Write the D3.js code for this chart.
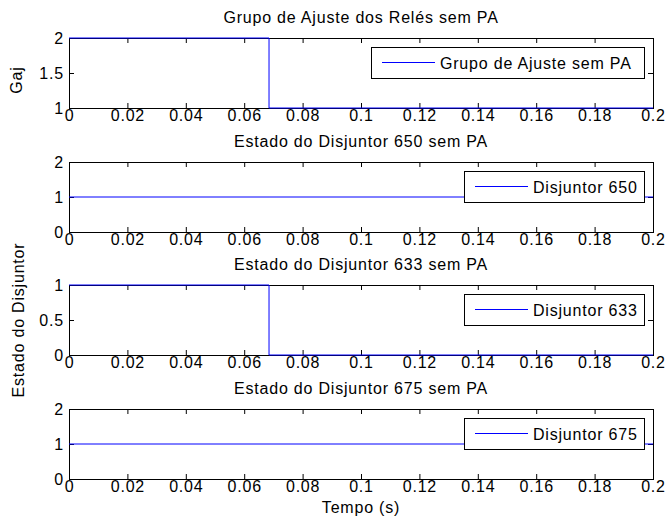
<!DOCTYPE html>
<html>
  <head>
    <meta charset="utf-8">
    <script src="https://d3js.org/d3.v7.min.js"></script>
    <style>
      body {
        margin: 0;
        background: #fff;
      }
      svg text {
        font-family: "Liberation Sans", Arial, Helvetica, sans-serif;
        font-size: 16px;
        letter-spacing: 0.8px;
        fill: #000;
      }
    </style>
  </head>
  <body>
    <div id="chart"></div>
    <script>
      // dados (tempo em s)
      const tempo = [0, 0.0685, 0.0685, 0.2]
      const grupoAjuste = [2, 2, 1, 1]
      const disj650 = [1, 1, 1, 1]
      const disj633 = [1, 1, 0, 0]
      const disj675 = [1, 1, 1, 1]

      const xTicks = [0, 0.02, 0.04, 0.06, 0.08, 0.1, 0.12, 0.14, 0.16, 0.18, 0.2]
      const titulos = [
        "Grupo de Ajuste dos Relés sem PA",
        "Estado do Disjuntor 650 sem PA",
        "Estado do Disjuntor 633 sem PA",
        "Estado do Disjuntor 675 sem PA"
      ]
      const legendas = ["Grupo de Ajuste sem PA", "Disjuntor 650", "Disjuntor 633", "Disjuntor 675"]
      const series = [grupoAjuste, disj650, disj633, disj675]
      const yDominios = [[1, 2], [0, 2], [0, 1], [0, 2]]
      const yTicks = [[1, 1.5, 2], [0, 1, 2], [0, 0.5, 1], [0, 1, 2]]

      const width = 666, height = 528
      const left = 69, right = 653
      const tops = [38, 162, 285, 409]
      const h = 70
      const legW = [273, 180, 180, 180]
      const legY = [47, 171, 294, 418]

      const svg = d3.select('#chart').append('svg')
        .attr('width', width)
        .attr('height', height)

      const x = d3.scaleLinear().domain([0, 0.2]).range([left, right])
      const fmt = d3.format('~g')

      series.forEach((vals, i) => {
        const top = tops[i]
        const y = d3.scaleLinear().domain(yDominios[i]).range([top + h, top])
        const g = svg.append('g')

        g.append('rect')
          .attr('x', left + 0.5).attr('y', top + 0.5)
          .attr('width', right - left).attr('height', h)
          .attr('fill', 'none').attr('stroke', '#000')

        const ax = g.append('g').attr('transform', `translate(0,${top + h})`)
          .call(d3.axisBottom(x).tickValues(xTicks).tickFormat(fmt)
            .tickSizeInner(-5).tickSizeOuter(0).tickPadding(1.5))
        const axT = g.append('g').attr('transform', `translate(0,${top})`)
          .call(d3.axisTop(x).tickValues(xTicks).tickFormat('')
            .tickSizeInner(-5).tickSizeOuter(0))
        const ay = g.append('g').attr('transform', `translate(${left},0)`)
          .call(d3.axisLeft(y).tickValues(yTicks[i]).tickFormat(fmt)
            .tickSizeInner(-5).tickSizeOuter(0).tickPadding(5))
        const ayR = g.append('g').attr('transform', `translate(${right},0)`)
          .call(d3.axisRight(y).tickValues(yTicks[i]).tickFormat('')
            .tickSizeInner(-5).tickSizeOuter(0))

        ;[ax, axT, ay, ayR].forEach(a => {
          a.select('.domain').remove()
          a.selectAll('line').attr('stroke', '#000')
          a.selectAll('text').attr('font-size', null).attr('font-family', null).attr('fill', '#000')
        })

        const line = d3.line()
          .x((d, k) => x(tempo[k]))
          .y(d => y(d))
        g.append('path')
          .datum(vals)
          .attr('d', line)
          .attr('fill', 'none')
          .attr('stroke', '#0000ff')
          .attr('stroke-width', 1)

        g.append('text')
          .attr('x', (left + right) / 2)
          .attr('y', top - 15)
          .attr('text-anchor', 'middle')
          .text(titulos[i])

        // legenda
        const lx = right - 9 - legW[i]
        const ly = legY[i]
        const lg = g.append('g')
        lg.append('rect')
          .attr('x', lx + 0.5).attr('y', ly + 0.5)
          .attr('width', legW[i]).attr('height', 31)
          .attr('fill', '#fff').attr('stroke', '#000')
        lg.append('line')
          .attr('x1', lx + 11).attr('x2', lx + 64)
          .attr('y1', ly + 15.5).attr('y2', ly + 15.5)
          .attr('stroke', '#0000ff')
        lg.append('text')
          .attr('x', lx + 69)
          .attr('y', ly + 21.5)
          .text(legendas[i])
      })

      svg.append('text')
        .attr('transform', 'translate(22,80) rotate(-90)')
        .attr('text-anchor', 'middle')
        .text('Gaj')

      svg.append('text')
        .attr('transform', 'translate(24,320) rotate(-90)')
        .attr('text-anchor', 'middle')
        .text('Estado do Disjuntor')

      svg.append('text')
        .attr('x', (left + right) / 2)
        .attr('y', 513)
        .attr('text-anchor', 'middle')
        .text('Tempo (s)')
    </script>
  </body>
</html>
